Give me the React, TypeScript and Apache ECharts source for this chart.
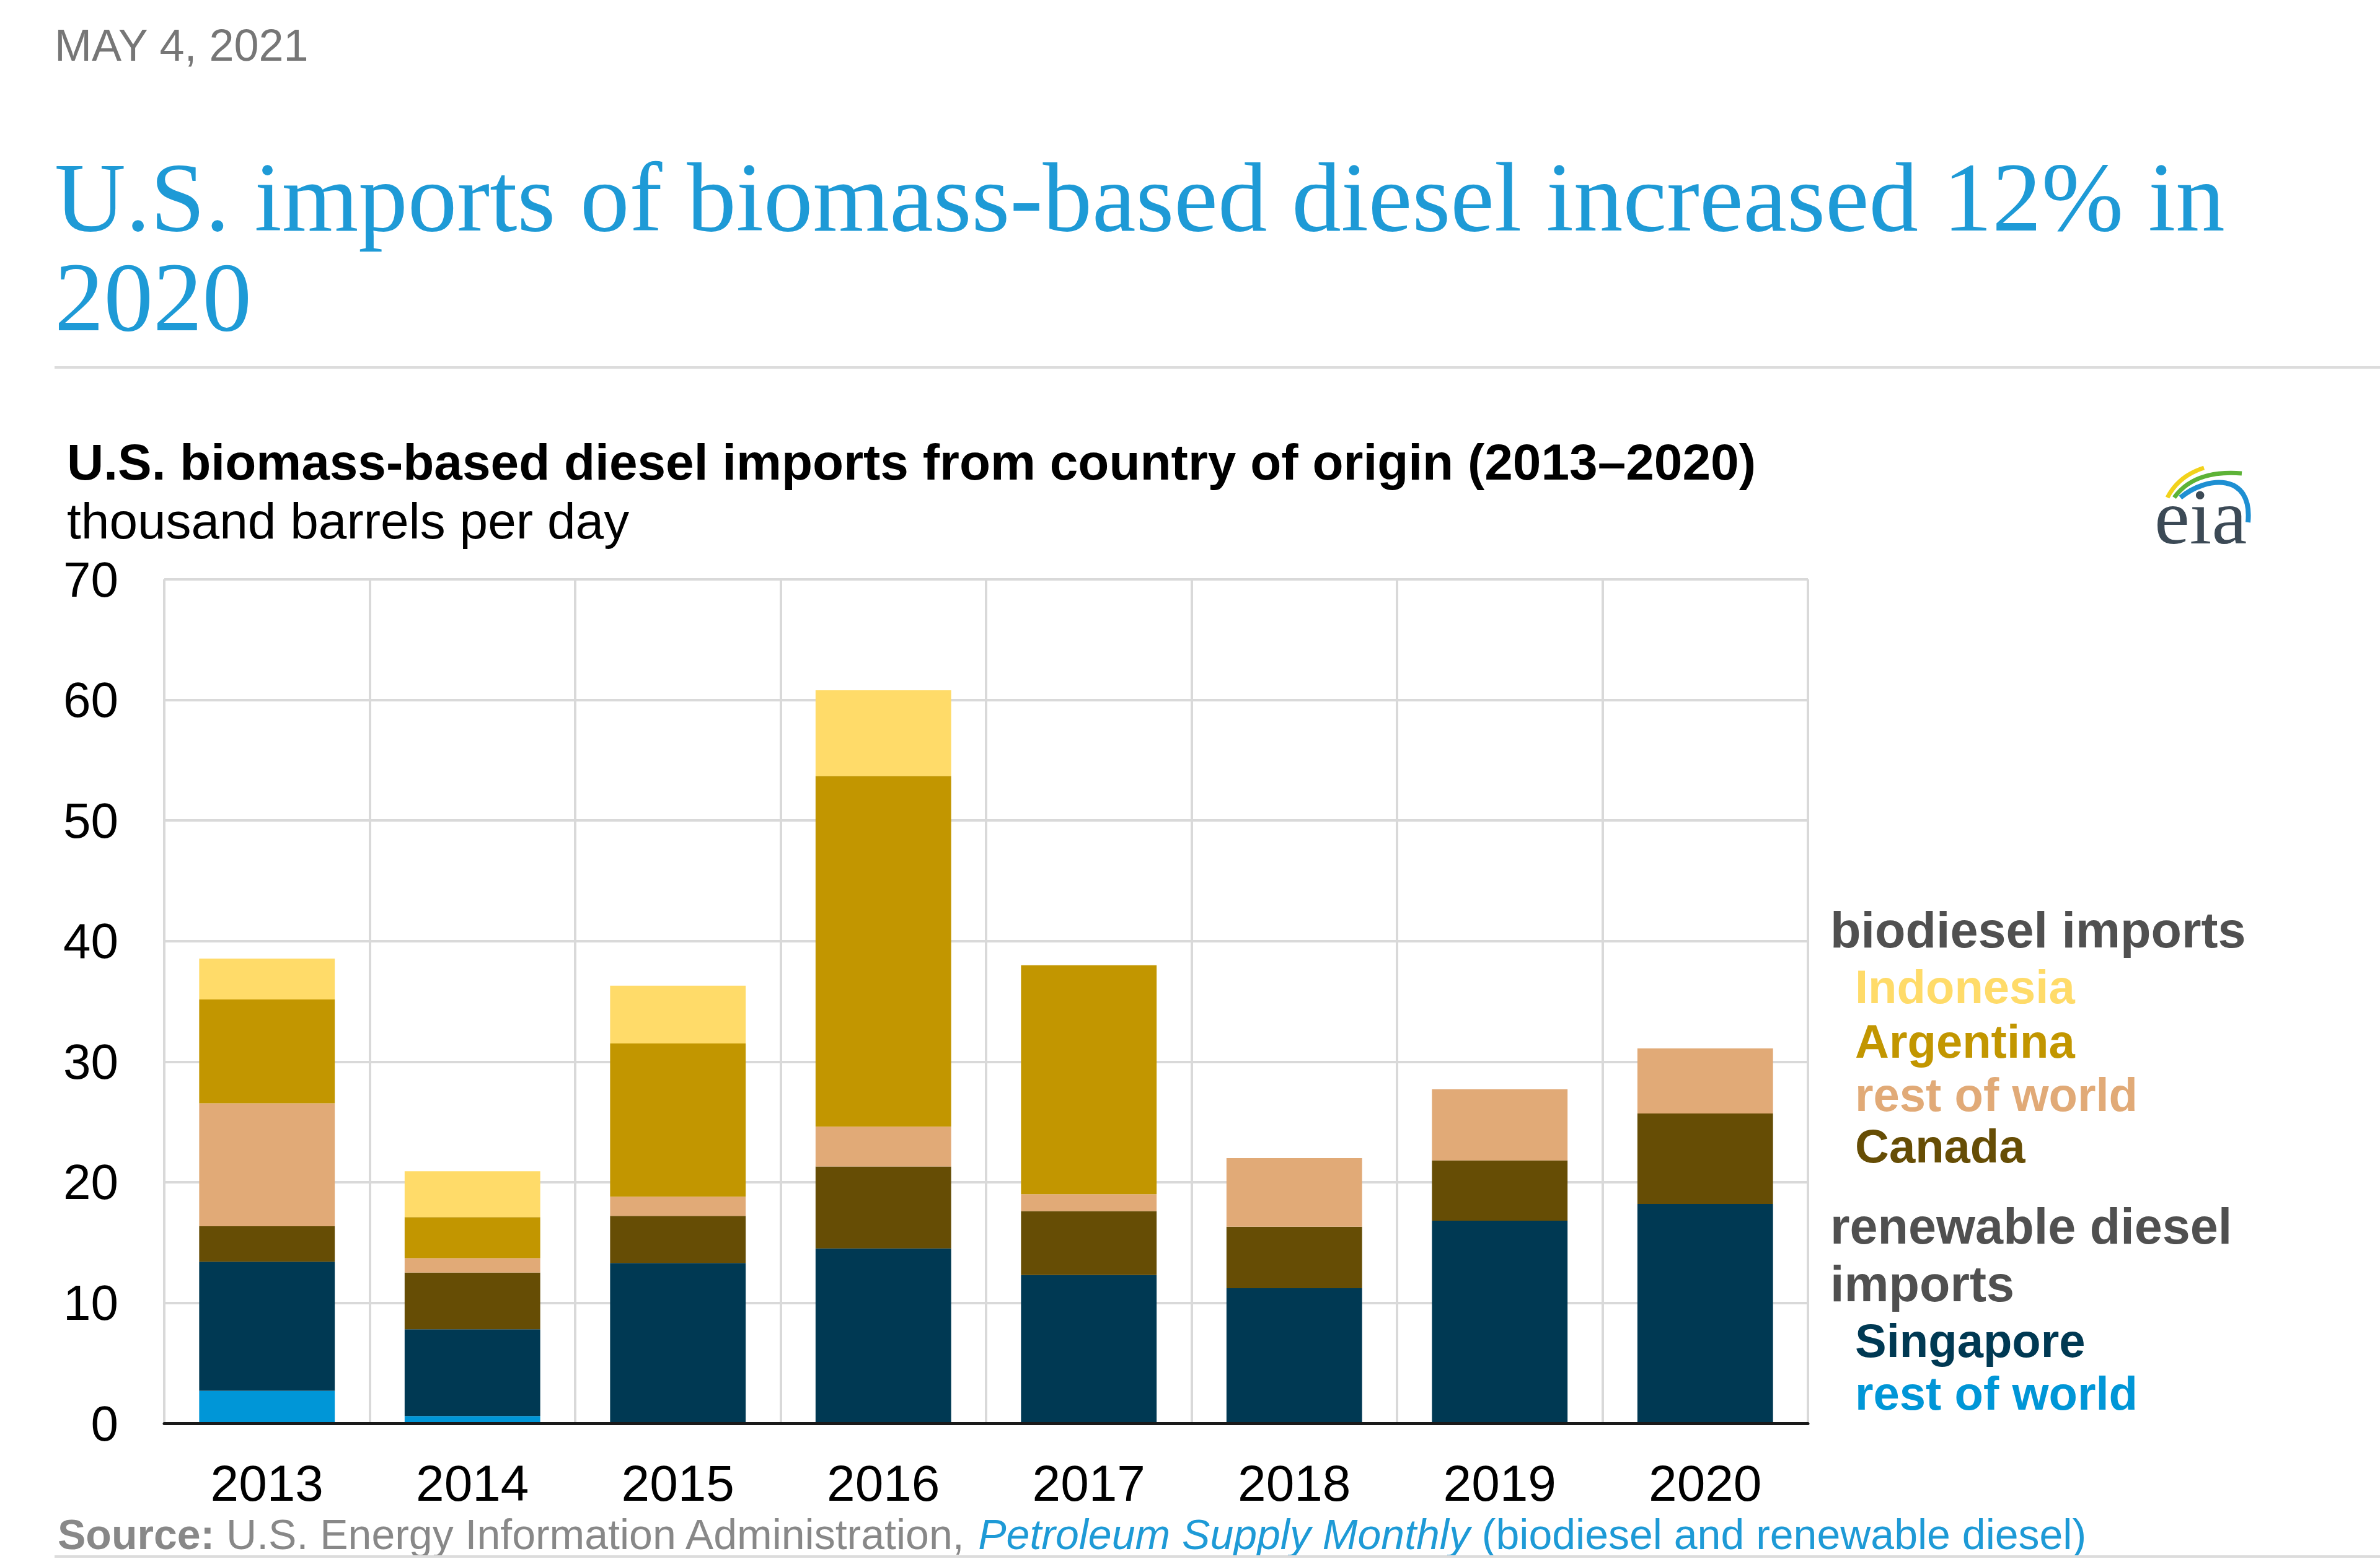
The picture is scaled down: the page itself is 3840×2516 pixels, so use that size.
import React, { useEffect, useRef } from "react";
import * as echarts from "echarts";

const years = ["2013", "2014", "2015", "2016", "2017", "2018", "2019", "2020"];
const renewableRestOfWorld = [2.7, 0.6, 0, 0, 0, 0, 0, 0];
const singapore = [10.7, 7.2, 13.3, 14.5, 12.3, 11.2, 16.8, 18.2];
const canada = [2.95, 4.7, 3.9, 6.8, 5.3, 5.1, 5.0, 7.5];
const biodieselRestOfWorld = [10.2, 1.2, 1.6, 3.3, 1.4, 5.7, 5.9, 5.4];
const argentina = [8.6, 3.4, 12.7, 29.1, 19.0, 0, 0, 0];
const indonesia = [3.4, 3.8, 4.8, 7.1, 0, 0, 0, 0];

const COLORS = {
  indonesia: "#FFDB69",
  argentina: "#C29600",
  bioRow: "#E1AA77",
  canada: "#664D05",
  singapore: "#003953",
  renRow: "#0096D7",
};

const SANS = "'Liberation Sans', Arial, sans-serif";
const SERIF = "'Liberation Serif', 'Times New Roman', serif";

export default function App() {
  const ref = useRef<HTMLDivElement>(null);
  useEffect(() => {
    document.body.style.margin = "0";
    const chart = echarts.init(ref.current!, null, { renderer: "svg" });
    const mk = (name: string, data: number[], color: string) => ({
      name,
      type: "bar",
      stack: "total",
      data,
      barCategoryGap: "34%",
      itemStyle: { color },
      emphasis: { disabled: true },
    });
    const legendItem = (text: string, y: number, color: string, x = 2993, size = 76) => ({
      type: "text",
      x,
      y,
      style: {
        text,
        fill: color,
        fontSize: size,
        fontWeight: "bold",
        fontFamily: SANS,
        textAlign: "left",
        textVerticalAlign: "middle",
      },
    });
    const option = {
      animation: false,
      backgroundColor: "#ffffff",
      grid: { left: 265, right: 923, top: 935, bottom: 219, containLabel: false },
      xAxis: {
        type: "category",
        data: years,
        boundaryGap: true,
        axisTick: { show: false },
        axisLine: { show: true, lineStyle: { color: "#1a1a1a", width: 5 } },
        splitLine: { show: true, interval: 0, lineStyle: { color: "#d9d9d9", width: 4 } },
        axisLabel: { interval: 0, fontSize: 82, color: "#000", fontFamily: SANS, margin: 55 },
        z: 10,
      },
      yAxis: {
        type: "value",
        min: 0,
        max: 70,
        interval: 10,
        axisLine: { show: false },
        axisTick: { show: false },
        splitLine: { show: true, lineStyle: { color: "#d9d9d9", width: 4 } },
        axisLabel: { fontSize: 80, color: "#000", fontFamily: SANS, margin: 74 },
      },
      series: [
        mk("renewable rest of world", renewableRestOfWorld, COLORS.renRow),
        mk("Singapore", singapore, COLORS.singapore),
        mk("Canada", canada, COLORS.canada),
        mk("biodiesel rest of world", biodieselRestOfWorld, COLORS.bioRow),
        mk("Argentina", argentina, COLORS.argentina),
        mk("Indonesia", indonesia, COLORS.indonesia),
      ],
      graphic: [
        {
          type: "text",
          x: 88,
          y: 73,
          style: {
            text: "MAY 4, 2021",
            fill: "#767676",
            fontSize: 72,
            fontFamily: SANS,
            textVerticalAlign: "middle",
          },
        },
        {
          type: "text",
          x: 88,
          y: 398,
          style: {
            text: "U.S. imports of biomass-based diesel increased 12% in\n2020",
            fill: "#1E9AD6",
            fontSize: 159,
            lineHeight: 161,
            fontFamily: SERIF,
            textVerticalAlign: "middle",
          },
        },
        {
          type: "line",
          shape: { x1: 88, y1: 593, x2: 3840, y2: 593 },
          style: { stroke: "#dcdcdc", lineWidth: 4 },
        },
        {
          type: "text",
          x: 108,
          y: 745,
          style: {
            text: "U.S. biomass-based diesel imports from country of origin (2013–2020)",
            fill: "#000",
            fontSize: 82,
            fontWeight: "bold",
            fontFamily: SANS,
            textVerticalAlign: "middle",
          },
        },
        {
          type: "text",
          x: 108,
          y: 840,
          style: {
            text: "thousand barrels per day",
            fill: "#000",
            fontSize: 82,
            fontFamily: SANS,
            textVerticalAlign: "middle",
          },
        },
        legendItem("biodiesel imports", 1501, "#505050", 2953, 81),
        legendItem("Indonesia", 1592, COLORS.indonesia),
        legendItem("Argentina", 1680, COLORS.argentina),
        legendItem("rest of world", 1766, COLORS.bioRow),
        legendItem("Canada", 1849, COLORS.canada),
        legendItem("renewable diesel", 1979, "#505050", 2953, 81),
        legendItem("imports", 2072, "#505050", 2953, 81),
        legendItem("Singapore", 2163, COLORS.singapore),
        legendItem("rest of world", 2248, COLORS.renRow),
        {
          type: "text",
          x: 93,
          y: 2476,
          style: {
            text:
              "{b|Source:}{n| U.S. Energy Information Administration, }{i|Petroleum Supply Monthly}{l| (biodiesel and renewable diesel)}",
            textVerticalAlign: "middle",
            rich: {
              b: { fontSize: 68, fontWeight: "bold", fill: "#888888", fontFamily: SANS },
              n: { fontSize: 68, fill: "#888888", fontFamily: SANS },
              i: { fontSize: 68, fontStyle: "italic", fill: "#1E9AD6", fontFamily: SANS },
              l: { fontSize: 68, fill: "#1E9AD6", fontFamily: SANS },
            },
          },
        },
        {
          type: "line",
          shape: { x1: 88, y1: 2512, x2: 3840, y2: 2512 },
          style: { stroke: "#dcdcdc", lineWidth: 4 },
        },
        // eia logo
        {
          type: "bezierCurve",
          shape: { x1: 3497, y1: 803, cpx1: 3515, cpy1: 768, x2: 3556, y2: 755 },
          style: { stroke: "#F2D21B", lineWidth: 7, fill: "none" },
        },
        {
          type: "bezierCurve",
          shape: { x1: 3508, y1: 803, cpx1: 3540, cpy1: 758, x2: 3617, y2: 764 },
          style: { stroke: "#5DB337", lineWidth: 7, fill: "none" },
        },
        {
          type: "bezierCurve",
          shape: { x1: 3518, y1: 803, cpx1: 3560, cpy1: 768, cpx2: 3635, cpy2: 762, x2: 3627, y2: 843 },
          style: { stroke: "#1E8FD2", lineWidth: 8, fill: "none" },
        },
        {
          type: "text",
          x: 3476,
          y: 898,
          style: {
            text: "eia",
            fill: "#3C4A56",
            fontSize: 128,
            fontFamily: SERIF,
            textVerticalAlign: "bottom",
          },
        },
      ],
    };
    chart.setOption(option as any);
    return () => chart.dispose();
  }, []);
  return <div ref={ref} style={{ width: 3840, height: 2516 }} />;
}
